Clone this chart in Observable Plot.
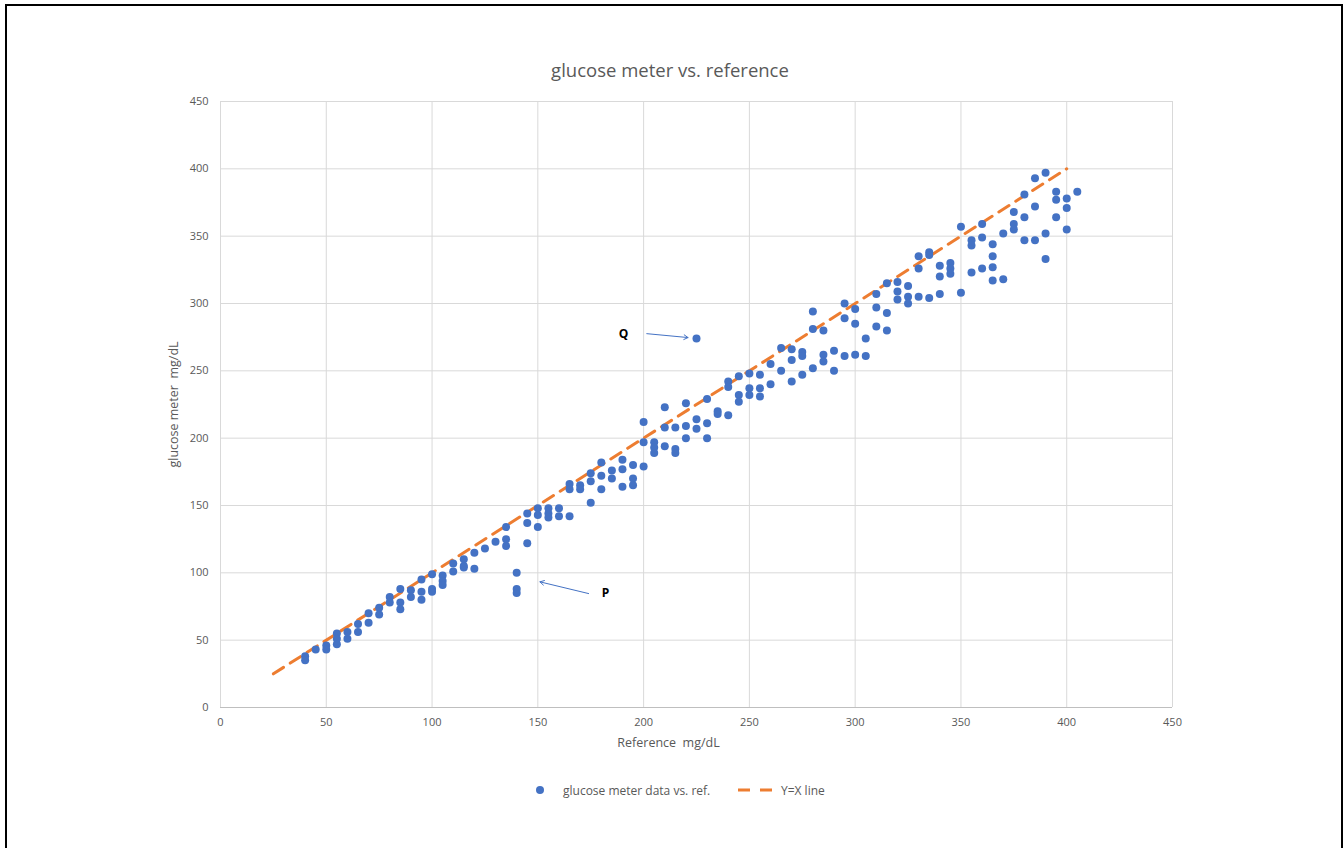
<!DOCTYPE html>
<html>
<head>
<meta charset="utf-8">
<script src="https://cdn.jsdelivr.net/npm/d3@7"></script>
<script src="https://cdn.jsdelivr.net/npm/@observablehq/plot@0.6"></script>
<style>
  html, body { margin: 0; padding: 0; background: #fff; }
  body { width: 1344px; height: 848px; overflow: hidden; font-family: "Open Sans", "Noto Sans", sans-serif; }
  #wrap { position: relative; width: 1344px; height: 848px; }
  #frame { position: absolute; left: 5px; top: 4px; width: 1338px; height: 860px; border: 2px solid #000; box-sizing: border-box; }
  #title { position: absolute; left: 0; width: 1340px; top: 57px; text-align: center; font-size: 18.5px; color: #595959; }
  #chart { position: absolute; left: 0; top: 0; }
  #legend { position: absolute; top: 780px; left: 0; width: 1344px; height: 20px; font-size: 12px; color: #595959; }
  #legend .item { position: absolute; top: 0; display: flex; align-items: center; height: 20px; }
</style>
</head>
<body>
<div id="wrap">
  <div id="frame"></div>
  <div id="chart"></div>
  <div id="title">glucose meter vs. reference</div>
  <div id="legend">
    <div class="item" style="left:534px;">
      <svg width="14" height="14"><circle cx="6" cy="7" r="4" fill="#4472C4"></circle></svg>
      <span style="margin-left:15px;">glucose meter data vs. ref.</span>
    </div>
    <div class="item" style="left:737px;">
      <svg width="40" height="14"><line x1="1" y1="7" x2="38" y2="7" stroke="#ED7D31" stroke-width="3" stroke-dasharray="12,10"></line></svg>
      <span style="margin-left:4px;">Y=X line</span>
    </div>
  </div>
</div>
<script>
// Reference value (mg/dL) and glucose meter reading (mg/dL) for each point
const refValues = [
  40,40,45,50,50,55,55,55,60,60,65,65,70,70,75,75,80,80,85,85,85,90,90,95,95,95,
  100,100,100,105,105,105,110,110,115,115,115,120,120,125,130,135,135,135,140,140,140,
  145,145,145,150,150,150,155,155,155,160,160,165,165,165,170,170,175,175,175,
  180,180,180,185,185,190,190,190,195,195,195,200,200,200,205,205,205,210,210,210,
  215,215,215,220,220,220,225,225,225,230,230,230,235,235,240,240,240,245,245,245,
  250,250,250,255,255,255,260,260,265,265,270,270,270,275,275,275,280,280,280,
  285,285,285,290,290,295,295,295,300,300,300,305,305,310,310,310,315,315,315,
  320,320,320,325,325,325,330,330,330,335,335,335,340,340,340,345,345,345,350,350,
  355,355,355,360,360,360,365,365,365,365,370,370,375,375,375,380,380,380,
  385,385,385,390,390,390,395,395,395,400,400,400,405
];
const meterValues = [
  38,35,43,46,43,55,51,47,56,51,62,56,70,63,74,69,82,78,88,78,73,87,82,95,86,80,
  99,88,86,98,94,91,107,101,110,105,104,115,103,118,123,134,125,120,100,88,85,
  144,137,122,148,143,134,148,144,141,148,142,166,162,142,165,162,174,168,152,
  182,172,162,176,170,184,177,164,180,170,165,212,197,179,197,193,189,223,208,194,
  208,192,189,226,209,200,214,207,274,229,211,200,220,218,242,238,217,246,232,227,
  248,237,232,247,237,231,255,240,267,250,266,258,242,264,261,247,294,281,252,
  280,262,257,265,250,300,289,261,296,285,262,274,261,307,297,283,315,293,280,
  316,309,303,313,305,300,335,326,305,338,336,304,328,320,307,330,326,322,357,308,
  347,343,323,359,349,326,344,335,327,317,352,318,368,359,355,381,364,347,
  393,372,347,397,352,333,383,377,364,378,371,355,383
];
// Y = X reference line endpoints
const lineRef = [25, 400];
// Axis ticks and titles
const xTicks = [0, 50, 100, 150, 200, 250, 300, 350, 400, 450];
const yTicks = [0, 50, 100, 150, 200, 250, 300, 350, 400, 450];
const xTitle = ["Reference\u00a0 mg/dL"];
const yTitle = ["glucose meter\u00a0 mg/dL"];
// Annotations
const annotLabels = ["Q", "P"];
const annotLabelX = [190.5, 182];
const annotLabelY = [277, 84.6];
const arrowX1 = [201.5, 174];
const arrowY1 = [277.6, 84.6];
const arrowX2 = [221, 151];
const arrowY2 = [274.7, 93.3];

const points = refValues.map((r, i) => ({ref: r, meter: meterValues[i]}));
const yxLine = lineRef.map(v => ({x: v, y: v}));
const labels = annotLabels.map((t, i) => ({t, x: annotLabelX[i], y: annotLabelY[i]}));
const arrows = annotLabels.map((t, i) => ({x1: arrowX1[i], y1: arrowY1[i], x2: arrowX2[i], y2: arrowY2[i]}));

const chart = Plot.plot({
  width: 1344,
  height: 848,
  marginLeft: 220,
  marginRight: 172,
  marginTop: 101,
  marginBottom: 141,
  style: {fontFamily: '"Open Sans", "Noto Sans", sans-serif', background: "transparent"},
  x: {domain: [0, 450]},
  y: {domain: [0, 450]},
  marks: [
    Plot.gridX(xTicks, {stroke: "#d9d9d9", strokeOpacity: 1}),
    Plot.gridY(yTicks, {stroke: "#d9d9d9", strokeOpacity: 1}),
    Plot.ruleY([0], {stroke: "#bfbfbf"}),
    Plot.axisX(xTicks, {tickSize: 0, tickPadding: 11, fontSize: 11, color: "#595959", label: null}),
    Plot.axisY(yTicks, {tickSize: 0, tickPadding: 12, fontSize: 11, color: "#595959", label: null}),
    Plot.text(xTitle, {frameAnchor: "bottom", dy: 39, dx: -28, textAnchor: "middle", text: d => d, fontSize: 12.5, fill: "#595959"}),
    Plot.text(yTitle, {frameAnchor: "left", dx: -47, rotate: -90, textAnchor: "middle", text: d => d, fontSize: 12.5, fill: "#595959"}),
    Plot.line(yxLine, {x: "x", y: "y", stroke: "#ED7D31", strokeWidth: 3, strokeDasharray: "12,8"}),
    Plot.dot(points, {x: "ref", y: "meter", r: 4, fill: "#4472C4", stroke: "none"}),
    Plot.arrow(arrows, {x1: "x1", y1: "y1", x2: "x2", y2: "y2", stroke: "#4472C4", strokeWidth: 1, headLength: 7}),
    Plot.text(labels, {x: "x", y: "y", text: "t", fontSize: 12, fontWeight: "bold", fill: "#000"})
  ]
});
document.getElementById("chart").appendChild(chart);
</script>
</body>
</html>
